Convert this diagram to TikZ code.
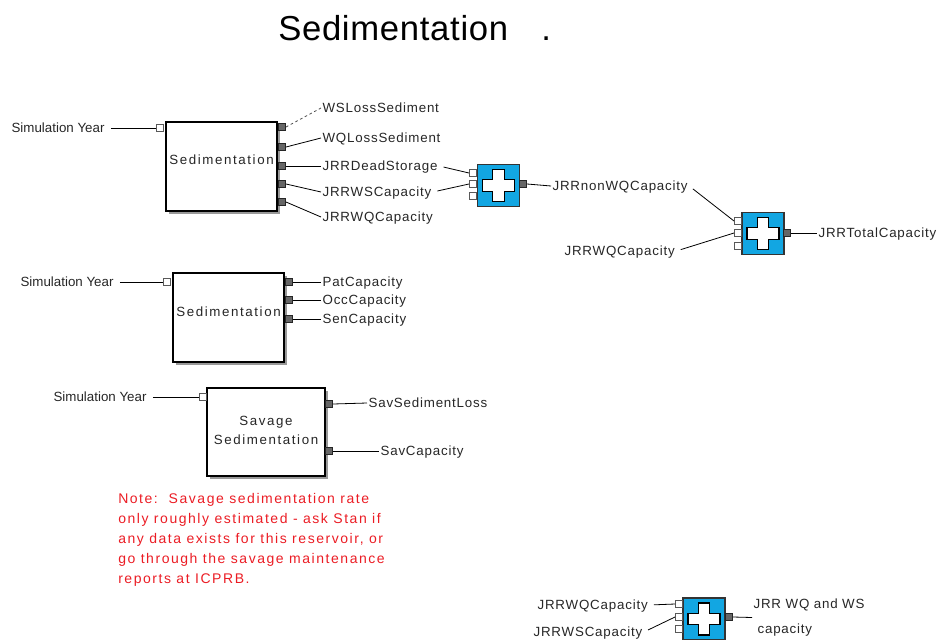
\documentclass[tikz,border=0pt]{standalone}
\usepackage{fontspec}
\setmainfont{Liberation Sans}
\newfontfamily\portfont[LetterSpace=6]{Liberation Sans}
\newfontfamily\boxfont[LetterSpace=12]{Liberation Sans}
\newfontfamily\notefont[LetterSpace=11]{Liberation Sans}
\newfontfamily\titlefont[LetterSpace=2]{Liberation Sans}
\definecolor{adderblue}{RGB}{18,166,226}
\definecolor{noteRed}{RGB}{235,28,36}

\begin{document}
\begin{tikzpicture}[x=0.75pt, y=-0.75pt,
  blk/.style={rectangle, draw=black, line width=0.9pt, fill=white, inner sep=0pt,
    preaction={fill=black!40, transform canvas={shift={(2.4pt,-2.4pt)}}}},
  boxtxt/.style={font=\boxfont\fontsize{10}{14.25}\selectfont, text=black!85, align=center, inner sep=0pt},
  adder/.style={rectangle, draw=black!80, line width=0.8pt, fill=adderblue, minimum size=31.5pt, inner sep=0pt,
    path picture={
      \begin{scope}[shift={(path picture bounding box.center)}]
        \fill[black, shift={(1.4pt,-1.4pt)}] (-12pt,-4.3pt) -- (-4.3pt,-4.3pt) -- (-4.3pt,-12pt) -- (4.3pt,-12pt) -- (4.3pt,-4.3pt) -- (12pt,-4.3pt) -- (12pt,4.3pt) -- (4.3pt,4.3pt) -- (4.3pt,12pt) -- (-4.3pt,12pt) -- (-4.3pt,4.3pt) -- (-12pt,4.3pt) -- cycle;
        \filldraw[fill=white, draw=black, line width=0.9pt] (-12pt,-4.3pt) -- (-4.3pt,-4.3pt) -- (-4.3pt,-12pt) -- (4.3pt,-12pt) -- (4.3pt,-4.3pt) -- (12pt,-4.3pt) -- (12pt,4.3pt) -- (4.3pt,4.3pt) -- (4.3pt,12pt) -- (-4.3pt,12pt) -- (-4.3pt,4.3pt) -- (-12pt,4.3pt) -- cycle;
      \end{scope}}},
  inport/.style={rectangle, draw=black!65, fill=white, line width=0.5pt, minimum size=5.5pt, inner sep=0pt},
  outport/.style={inport, draw=black!85, fill=black!60},
  lbl/.style={font=\portfont\fontsize{10}{12}\selectfont, text=black!85, anchor=west, inner xsep=1pt, inner ysep=0pt, text height=7.2pt, text depth=0pt},
  yrlbl/.style={lbl, font=\fontsize{10}{12}\selectfont},
  wire/.style={draw=black, line width=0.6pt},
  fromlbl/.style={wire, shorten <=3.5pt},
  lossline/.style={draw=black!70, line width=0.6pt, dash pattern=on 2pt off 2pt}
]
\useasboundingbox (0,0) rectangle (937,639);

\node[font=\titlefont\fontsize{26}{30}\selectfont, anchor=base west, inner sep=0pt] (title) at (278,40) {Sedimentation\hspace{25pt}.};

\node[blk, minimum width=83.25pt, minimum height=66.75pt] (sedA) at (221.5,166.5) {};
\node[boxtxt] (sedAtxt) at (221.5,160) {Sedimentation};
\node[inport] (sedAin) at (160,128) {};
\node[outport] (sedAo1) at (282,127) {};
\node[outport] (sedAo2) at (282,147) {};
\node[outport] (sedAo3) at (282,166) {};
\node[outport] (sedAo4) at (282,184) {};
\node[outport] (sedAo5) at (282,202) {};
\node[yrlbl] (yrA) at (10,128) {Simulation Year};
\node[lbl] (wsLoss) at (321,108) {WSLossSediment};
\node[lbl] (wqLoss) at (321,138) {WQLossSediment};
\node[lbl] (deadSt) at (321,166) {JRRDeadStorage};
\node[lbl] (wsCapA) at (321,192) {JRRWSCapacity};
\node[lbl] (wqCapA) at (321,217) {JRRWQCapacity};

\node[adder] (adderA) at (498.5,185.5) {};
\node[inport] (adderAi1) at (473,173) {};
\node[inport] (adderAi2) at (473,184) {};
\node[inport] (adderAi3) at (473,196) {};
\node[outport] (adderAo) at (523,184) {};
\node[lbl] (nonWQ) at (551,186) {JRRnonWQCapacity};

\node[adder] (adderB) at (763,233.5) {};
\node[inport] (adderBi1) at (738,221) {};
\node[inport] (adderBi2) at (738,233) {};
\node[inport] (adderBi3) at (738,246) {};
\node[outport] (adderBo) at (787,233) {};
\node[lbl] (wqCapB) at (563,251) {JRRWQCapacity};
\node[lbl] (totCap) at (817,233) {JRRTotalCapacity};

\node[blk, minimum width=83.25pt, minimum height=66.75pt] (sedB) at (228.5,317.5) {};
\node[boxtxt] (sedBtxt) at (228.5,312) {Sedimentation};
\node[inport] (sedBin) at (167,282) {};
\node[outport] (sedBo1) at (289,282) {};
\node[outport] (sedBo2) at (289,300) {};
\node[outport] (sedBo3) at (289,319) {};
\node[yrlbl] (yrB) at (19,282) {Simulation Year};
\node[lbl] (patCap) at (321,282) {PatCapacity};
\node[lbl] (occCap) at (321,300) {OccCapacity};
\node[lbl] (senCap) at (321,319) {SenCapacity};

\node[blk, minimum width=88.5pt, minimum height=66pt] (savSed) at (266,432) {};
\node[boxtxt] (savSedtxt) at (266,430) {Savage\\Sedimentation};
\node[inport] (savSedin) at (203,397) {};
\node[outport] (savSedo1) at (329,404) {};
\node[outport] (savSedo2) at (329,451) {};
\node[yrlbl] (yrC) at (52,397) {Simulation Year};
\node[lbl] (savLoss) at (367,403) {SavSedimentLoss};
\node[lbl] (savCap) at (379,451) {SavCapacity};

\node[font=\notefont\fontsize{10.5}{15}\selectfont, text=noteRed, align=left, anchor=north west, inner sep=0pt] (note) at (118,493)
  {Note:\ \ Savage sedimentation rate\\only roughly estimated - ask Stan if\\any data exists for this reservoir, or\\go through the savage maintenance\\reports at ICPRB.};

\node[adder] (adderC) at (704,619) {};
\node[inport] (adderCi1) at (679,604) {};
\node[inport] (adderCi2) at (679,617) {};
\node[inport] (adderCi3) at (679,629) {};
\node[outport] (adderCo) at (729,617) {};
\node[lbl] (wqCapC) at (536,605) {JRRWQCapacity};
\node[lbl] (wsCapC) at (532,632) {JRRWSCapacity};
\node[font=\portfont\fontsize{10}{18.5}\selectfont, text=black!85, align=left, anchor=west, inner xsep=1pt, inner ysep=0pt] (wqws) at (752,617.5) {JRR WQ and WS\\\hspace{3pt}capacity};

\draw[fromlbl] (yrA.east) -- (sedAin.west);
\draw[lossline] (sedAo1.east) -- (wsLoss.west);
\draw[wire] (sedAo2.east) -- (wqLoss.west);
\draw[wire] (sedAo3.east) -- (deadSt.west);
\draw[wire] (sedAo4.east) -- (wsCapA.west);
\draw[wire] (sedAo5.east) -- (wqCapA.west);
\draw[fromlbl] (deadSt.east) -- (adderAi1.west);
\draw[fromlbl] (wsCapA.east) -- (adderAi2.west);
\draw[wire] (adderAo.east) -- (nonWQ.west);
\draw[fromlbl] (nonWQ.east) -- (adderBi1.west);
\draw[fromlbl] (wqCapB.east) -- (adderBi2.west);
\draw[wire] (adderBo.east) -- (totCap.west);

\draw[fromlbl] (yrB.east) -- (sedBin.west);
\draw[wire] (sedBo1.east) -- (patCap.west);
\draw[wire] (sedBo2.east) -- (occCap.west);
\draw[wire] (sedBo3.east) -- (senCap.west);

\draw[fromlbl] (yrC.east) -- (savSedin.west);
\draw[wire] (savSedo1.east) -- (savLoss.west);
\draw[wire] (savSedo2.east) -- (savCap.west);

\draw[fromlbl] (wqCapC.east) -- (adderCi1.west);
\draw[fromlbl] (wsCapC.east) -- (adderCi2.west);
\draw[wire] (adderCo.east) -- (wqws.west);
\end{tikzpicture}
\end{document}
